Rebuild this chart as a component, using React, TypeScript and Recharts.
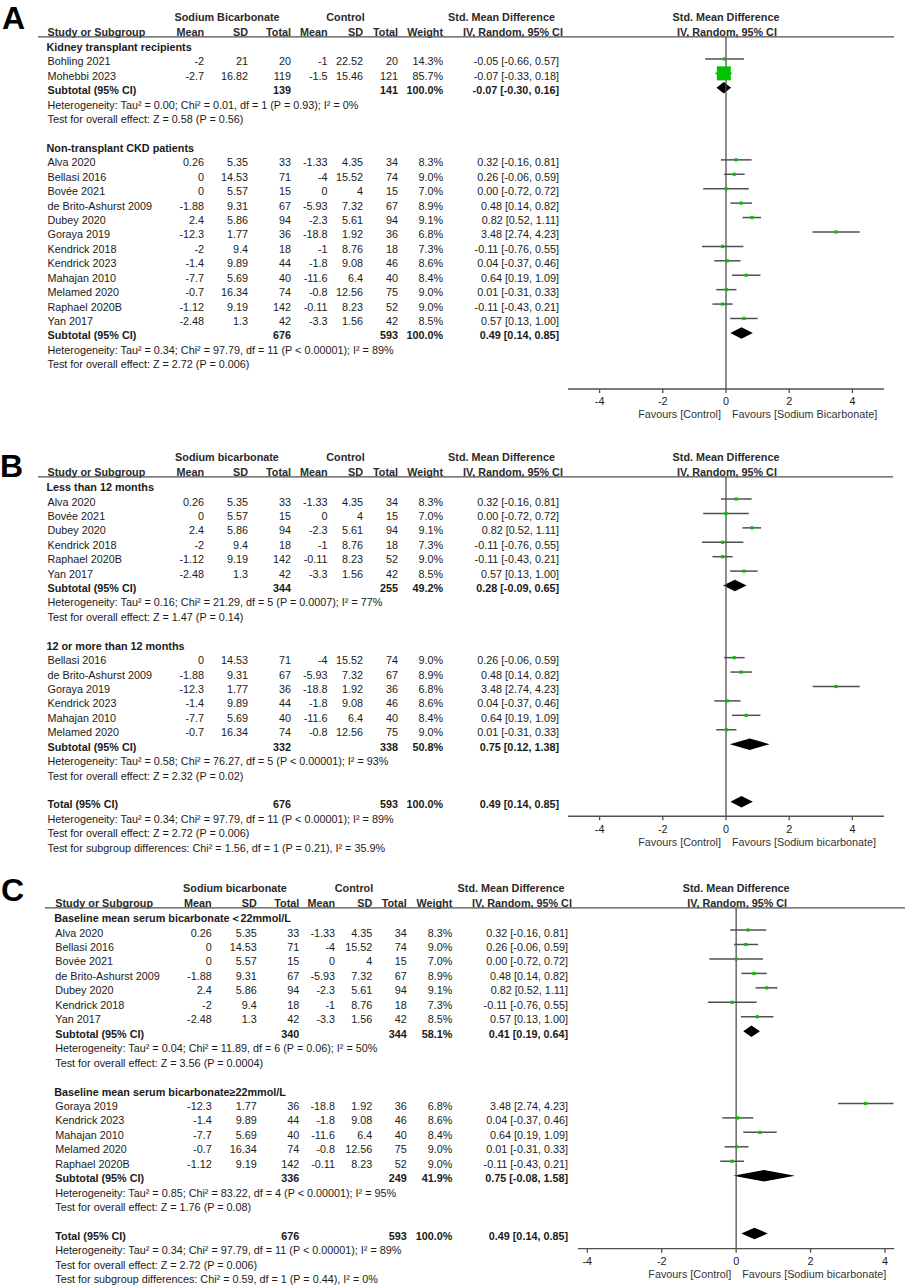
import React from "react";
import {
  ComposedChart,
  Scatter,
  XAxis,
  YAxis,
  ErrorBar,
  ReferenceLine,
  ReferenceArea,
} from "recharts";

const FONT = '"Liberation Sans", Arial, Helvetica, sans-serif';
const FS = 10.8;
const TXT = "#1a1a1a";
const HDR = "#2a2a2a";
const LINE = "#505050";
const GREEN = "#00c400";

// ---------- Non-transplant CKD studies ----------
const ckdStudies = [
  "Alva 2020",
  "Bellasi 2016",
  "Bovée 2021",
  "de Brito-Ashurst 2009",
  "Dubey 2020",
  "Goraya 2019",
  "Kendrick 2018",
  "Kendrick 2023",
  "Mahajan 2010",
  "Melamed 2020",
  "Raphael 2020B",
  "Yan 2017",
];
const ckdBicarbMean = [0.26, 0, 0, -1.88, 2.4, -12.3, -2, -1.4, -7.7, -0.7, -1.12, -2.48];
const ckdBicarbSD = [5.35, 14.53, 5.57, 9.31, 5.86, 1.77, 9.4, 9.89, 5.69, 16.34, 9.19, 1.3];
const ckdBicarbTotal = [33, 71, 15, 67, 94, 36, 18, 44, 40, 74, 142, 42];
const ckdControlMean = [-1.33, -4, 0, -5.93, -2.3, -18.8, -1, -1.8, -11.6, -0.8, -0.11, -3.3];
const ckdControlSD = [4.35, 15.52, 4, 7.32, 5.61, 1.92, 8.76, 9.08, 6.4, 12.56, 8.23, 1.56];
const ckdControlTotal = [34, 74, 15, 67, 94, 36, 18, 46, 40, 75, 52, 42];
const ckdWeight = [8.3, 9.0, 7.0, 8.9, 9.1, 6.8, 7.3, 8.6, 8.4, 9.0, 9.0, 8.5];
const ckdSMD = [0.32, 0.26, 0.0, 0.48, 0.82, 3.48, -0.11, 0.04, 0.64, 0.01, -0.11, 0.57];
const ckdLow = [-0.16, -0.06, -0.72, 0.14, 0.52, 2.74, -0.76, -0.37, 0.19, -0.31, -0.43, 0.13];
const ckdHigh = [0.81, 0.59, 0.72, 0.82, 1.11, 4.23, 0.55, 0.46, 1.09, 0.33, 0.21, 1.0];

// ---------- Kidney transplant studies ----------
const ktxStudies = ["Bohling 2021", "Mohebbi 2023"];
const ktxBicarbMean = [-2, -2.7];
const ktxBicarbSD = [21, 16.82];
const ktxBicarbTotal = [20, 119];
const ktxControlMean = [-1, -1.5];
const ktxControlSD = [22.52, 15.46];
const ktxControlTotal = [20, 121];
const ktxWeight = [14.3, 85.7];
const ktxSMD = [-0.05, -0.07];
const ktxLow = [-0.66, -0.33];
const ktxHigh = [0.57, 0.18];

// ---------- subgroup membership ----------
const durationShort = ["Alva 2020", "Bovée 2021", "Dubey 2020", "Kendrick 2018", "Raphael 2020B", "Yan 2017"];
const durationLong = ["Bellasi 2016", "de Brito-Ashurst 2009", "Goraya 2019", "Kendrick 2023", "Mahajan 2010", "Melamed 2020"];
const baselineLow = ["Alva 2020", "Bellasi 2016", "Bovée 2021", "de Brito-Ashurst 2009", "Dubey 2020", "Kendrick 2018", "Yan 2017"];
const baselineHigh = ["Goraya 2019", "Kendrick 2023", "Mahajan 2010", "Melamed 2020", "Raphael 2020B"];

// ---------- pooled estimates: [bicarbTotal, controlTotal, weight, smd, low, high] ----------
const pooledKtx = [139, 141, 100.0, -0.07, -0.3, 0.16];
const pooledCkd = [676, 593, 100.0, 0.49, 0.14, 0.85];
const pooledShort = [344, 255, 49.2, 0.28, -0.09, 0.65];
const pooledLong = [332, 338, 50.8, 0.75, 0.12, 1.38];
const pooledBaseLow = [340, 344, 58.1, 0.41, 0.19, 0.64];
const pooledBaseHigh = [336, 249, 41.9, 0.75, -0.08, 1.58];
const pooledTotal = [676, 593, 100.0, 0.49, 0.14, 0.85];

// ---------- statistics notes ----------
const hetKtx = "Heterogeneity: Tau² = 0.00; Chi² = 0.01, df = 1 (P = 0.93); I² = 0%";
const zKtx = "Test for overall effect: Z = 0.58 (P = 0.56)";
const hetAll = "Heterogeneity: Tau² = 0.34; Chi² = 97.79, df = 11 (P < 0.00001); I² = 89%";
const zAll = "Test for overall effect: Z = 2.72 (P = 0.006)";
const hetShort = "Heterogeneity: Tau² = 0.16; Chi² = 21.29, df = 5 (P = 0.0007); I² = 77%";
const zShort = "Test for overall effect: Z = 1.47 (P = 0.14)";
const hetLong = "Heterogeneity: Tau² = 0.58; Chi² = 76.27, df = 5 (P < 0.00001); I² = 93%";
const zLong = "Test for overall effect: Z = 2.32 (P = 0.02)";
const subDiffB = "Test for subgroup differences: Chi² = 1.56, df = 1 (P = 0.21), I² = 35.9%";
const hetBaseLow = "Heterogeneity: Tau² = 0.04; Chi² = 11.89, df = 6 (P = 0.06); I² = 50%";
const zBaseLow = "Test for overall effect: Z = 3.56 (P = 0.0004)";
const hetBaseHigh = "Heterogeneity: Tau² = 0.85; Chi² = 83.22, df = 4 (P < 0.00001); I² = 95%";
const zBaseHigh = "Test for overall effect: Z = 1.76 (P = 0.08)";
const subDiffC = "Test for subgroup differences: Chi² = 0.59, df = 1 (P = 0.44), I² = 0%";

const axisTicks = [-4, -2, 0, 2, 4];

// ---------- row builders ----------
function study(name: string) {
  let i = ckdStudies.indexOf(name);
  if (i >= 0)
    return {
      kind: "study", name,
      m1: ckdBicarbMean[i], sd1: ckdBicarbSD[i], n1: ckdBicarbTotal[i],
      m2: ckdControlMean[i], sd2: ckdControlSD[i], n2: ckdControlTotal[i],
      w: ckdWeight[i], smd: ckdSMD[i], lo: ckdLow[i], hi: ckdHigh[i],
    };
  i = ktxStudies.indexOf(name);
  return {
    kind: "study", name,
    m1: ktxBicarbMean[i], sd1: ktxBicarbSD[i], n1: ktxBicarbTotal[i],
    m2: ktxControlMean[i], sd2: ktxControlSD[i], n2: ktxControlTotal[i],
    w: ktxWeight[i], smd: ktxSMD[i], lo: ktxLow[i], hi: ktxHigh[i],
  };
}
function pooled(label: string, p: number[]) {
  return { kind: "pooled", name: label, n1: p[0], n2: p[1], w: p[2], smd: p[3], lo: p[4], hi: p[5] };
}
const group = (label: string) => ({ kind: "group", name: label });
const note = (text: string) => ({ kind: "note", name: text });
const blank = () => ({ kind: "blank" });

function buildRows(items: any[]) {
  const rows: any[] = [];
  items.forEach((it, idx) => {
    if (it.kind !== "blank") rows.push({ ...it, x: 0, y: idx });
  });
  return rows;
}

const rowsA = buildRows([
  group("Kidney transplant recipients"),
  ...ktxStudies.map(study),
  pooled("Subtotal (95% CI)", pooledKtx),
  note(hetKtx),
  note(zKtx),
  blank(),
  group("Non-transplant CKD patients"),
  ...ckdStudies.map(study),
  pooled("Subtotal (95% CI)", pooledCkd),
  note(hetAll),
  note(zAll),
]);

const rowsB = buildRows([
  group("Less than 12 months"),
  ...durationShort.map(study),
  pooled("Subtotal (95% CI)", pooledShort),
  note(hetShort),
  note(zShort),
  blank(),
  group("12 or more than 12 months"),
  ...durationLong.map(study),
  pooled("Subtotal (95% CI)", pooledLong),
  note(hetLong),
  note(zLong),
  blank(),
  pooled("Total (95% CI)", pooledTotal),
  note(hetAll),
  note(zAll),
  note(subDiffB),
]);

const rowsC = buildRows([
  group("Baseline mean serum bicarbonate＜22mmol/L"),
  ...baselineLow.map(study),
  pooled("Subtotal (95% CI)", pooledBaseLow),
  note(hetBaseLow),
  note(zBaseLow),
  blank(),
  group("Baseline mean serum bicarbonate≥22mmol/L"),
  ...baselineHigh.map(study),
  pooled("Subtotal (95% CI)", pooledBaseHigh),
  note(hetBaseHigh),
  note(zBaseHigh),
  blank(),
  pooled("Total (95% CI)", pooledTotal),
  note(hetAll),
  note(zAll),
  note(subDiffC),
]);

const colsAB = { name: 47.5, mean: 204, sd: 248, tot: 291, cmean: 327.5, csd: 363, ctot: 398, w: 443, ci: 559, sbC: 227, ctlC: 345.5, smdC: 501.5, ivC: 513 };
const colsC = { name: 55.3, mean: 211.7, sd: 256.7, tot: 299.3, cmean: 335, csd: 372.3, ctot: 406.7, w: 452.3, ci: 568, sbC: 235, ctlC: 354, smdC: 511, ivC: 522 };

const panels = [
  { letter: "A", top: 0, height: 440, row0: 44.5, rowH: 14.42, axisRow: 23.89, xMin: -5, xMax: 5, plotL: 568, plotR: 884, letterX: 2, letterY: 29, ul: [38, 894], cols: colsAB, sb: "Sodium Bicarbonate", fav: "Favours [Sodium Bicarbonate]", rows: rowsA },
  { letter: "B", top: 432, height: 440, row0: 484.6, rowH: 14.42, axisRow: 23, xMin: -5, xMax: 5, plotL: 568, plotR: 884, letterX: 0, letterY: 477, ul: [38, 893], cols: colsAB, sb: "Sodium bicarbonate", fav: "Favours [Sodium bicarbonate]", rows: rowsB },
  { letter: "C", top: 866, height: 421, row0: 915.6, rowH: 14.45, axisRow: 23.05, xMin: -4.25, xMax: 4.25, plotL: 578, plotR: 894.3, letterX: 1, letterY: 900.7, ul: [45, 905], cols: colsC, sb: "Sodium bicarbonate", fav: "Favours [Sodium bicarbonate]", rows: rowsC },
];

const fmtCI = (s: number, l: number, h: number) => `${s.toFixed(2)} [${l.toFixed(2)}, ${h.toFixed(2)}]`;

function T(props: any) {
  const { x, y, anchor = "end", bold = false, fill = TXT, size = FS, children } = props;
  return (
    <text x={x} y={y} textAnchor={anchor} fontFamily={FONT} fontSize={size} fontWeight={bold ? "bold" : "normal"} fill={fill}>
      {children}
    </text>
  );
}

function makeRowShape(panel: any) {
  const c = panel.cols;
  return (props: any) => {
    const { cx, cy, payload: r } = props;
    if (r.kind === "header") {
      const l1 = cy - 23.6;
      const l2 = cy - 8.5;
      const ul = cy - 7.7;
      return (
        <g>
          <T x={panel.letterX} y={cy + (panel.letterY - panel.row0)} anchor="start" bold size={32} fill="#000">{panel.letter}</T>
          <T x={c.sbC} y={l1} anchor="middle" bold fill={HDR}>{panel.sb}</T>
          <T x={c.ctlC} y={l1} anchor="middle" bold fill={HDR}>Control</T>
          <T x={c.smdC} y={l1} anchor="middle" bold fill={HDR}>Std. Mean Difference</T>
          <T x={cx} y={l1} anchor="middle" bold fill={HDR}>Std. Mean Difference</T>
          <T x={c.name} y={l2} anchor="start" bold fill={HDR}>Study or Subgroup</T>
          <T x={c.mean} y={l2} bold fill={HDR}>Mean</T>
          <T x={c.sd} y={l2} bold fill={HDR}>SD</T>
          <T x={c.tot} y={l2} bold fill={HDR}>Total</T>
          <T x={c.cmean} y={l2} bold fill={HDR}>Mean</T>
          <T x={c.csd} y={l2} bold fill={HDR}>SD</T>
          <T x={c.ctot} y={l2} bold fill={HDR}>Total</T>
          <T x={c.w} y={l2} bold fill={HDR}>Weight</T>
          <T x={c.ivC} y={l2} anchor="middle" bold fill={HDR}>IV, Random, 95% CI</T>
          <T x={cx + 1} y={l2} anchor="middle" bold fill={HDR}>IV, Random, 95% CI</T>
          <line x1={panel.ul[0]} x2={panel.ul[1]} y1={ul} y2={ul} stroke={LINE} strokeWidth={1.3} />
        </g>
      );
    }
    const b = cy + 6.5;
    if (r.kind === "group") return <T x={c.name - 1} y={b} anchor="start" bold>{r.name}</T>;
    if (r.kind === "note") return <T x={c.name} y={b} anchor="start">{r.name}</T>;
    if (r.kind === "pooled")
      return (
        <g>
          <T x={c.name} y={b} anchor="start" bold>{r.name}</T>
          <T x={c.tot} y={b} bold>{String(r.n1)}</T>
          <T x={c.ctot} y={b} bold>{String(r.n2)}</T>
          <T x={c.w} y={b} bold>{r.w.toFixed(1) + "%"}</T>
          <T x={c.ci} y={b} bold>{fmtCI(r.smd, r.lo, r.hi)}</T>
        </g>
      );
    return (
      <g>
        <T x={c.name} y={b} anchor="start">{r.name}</T>
        <T x={c.mean} y={b}>{String(r.m1)}</T>
        <T x={c.sd} y={b}>{String(r.sd1)}</T>
        <T x={c.tot} y={b}>{String(r.n1)}</T>
        <T x={c.cmean} y={b}>{String(r.m2)}</T>
        <T x={c.csd} y={b}>{String(r.sd2)}</T>
        <T x={c.ctot} y={b}>{String(r.n2)}</T>
        <T x={c.w} y={b}>{r.w.toFixed(1) + "%"}</T>
        <T x={c.ci} y={b}>{fmtCI(r.smd, r.lo, r.hi)}</T>
      </g>
    );
  };
}

const SquareShape = (props: any) => {
  const { cx, cy, payload } = props;
  const s = Math.max(3.2, (14 * payload.w) / 85.7);
  return <rect x={cx - s / 2} y={cy - s / 2} width={s} height={s} fill={GREEN} />;
};

const TickShape = (props: any) => {
  const { cx, cy, payload } = props;
  return (
    <g>
      <line x1={cx} x2={cx} y1={cy} y2={cy + 4} stroke={LINE} strokeWidth={1.3} />
      <T x={cx} y={cy + 16.5} anchor="middle">{payload.label}</T>
    </g>
  );
};

function makeFavShape(panel: any) {
  return (props: any) => {
    const { cx, cy } = props;
    return (
      <g>
        <T x={cx - 5} y={cy + 29.5} anchor="end" fill="#333">Favours [Control]</T>
        <T x={cx + 6} y={cy + 29.5} anchor="start" fill="#333">{panel.fav}</T>
      </g>
    );
  };
}

function makeDiamond(est: number, lo: number, hi: number) {
  return (p: any) => {
    const { x, y, width, height } = p;
    const ex = x + (width * (est - lo)) / (hi - lo);
    const my = y + height / 2;
    return <polygon points={`${x},${my} ${ex},${y} ${x + width},${my} ${ex},${y + height}`} fill="#000" />;
  };
}

function Panel({ panel }: { panel: any }) {
  const W = 906;
  const rel0 = panel.row0 - panel.top;
  const yMin = -rel0 / panel.rowH;
  const yMax = (panel.height - rel0) / panel.rowH;
  const textRows = [{ kind: "header", x: 0, y: 0 }, ...panel.rows];
  const studyPts = panel.rows
    .filter((r: any) => r.kind === "study")
    .map((r: any) => ({ x: r.smd, y: r.y, w: r.w, err: [r.smd - r.lo, r.hi - r.smd] }));
  const pooledRows = panel.rows.filter((r: any) => r.kind === "pooled");
  const tickPts = axisTicks.map((v) => ({ x: v, y: panel.axisRow, label: String(v) }));
  const favPts = [{ x: 0, y: panel.axisRow }];
  const zeroTop = -7.7 / panel.rowH;
  return (
    <div style={{ position: "absolute", left: 0, top: panel.top, width: W, height: panel.height }}>
      <ComposedChart
        width={W}
        height={panel.height}
        margin={{ top: 0, bottom: 0, left: panel.plotL, right: W - panel.plotR }}
      >
        <XAxis type="number" dataKey="x" domain={[panel.xMin, panel.xMax]} hide />
        <YAxis type="number" dataKey="y" domain={[yMin, yMax]} reversed hide />
        <ReferenceLine
          segment={[{ x: 0, y: zeroTop }, { x: 0, y: panel.axisRow }]}
          stroke={LINE}
          strokeWidth={1.3}
          ifOverflow="visible"
        />
        <ReferenceLine
          segment={[{ x: panel.xMin, y: panel.axisRow }, { x: panel.xMax, y: panel.axisRow }]}
          stroke={LINE}
          strokeWidth={1.3}
          ifOverflow="visible"
        />
        {pooledRows.map((r: any, i: number) => (
          <ReferenceArea
            key={"d" + i}
            x1={r.lo}
            x2={r.hi}
            y1={r.y - 0.4}
            y2={r.y + 0.4}
            ifOverflow="visible"
            shape={makeDiamond(r.smd, r.lo, r.hi)}
          />
        ))}
        <Scatter data={studyPts} shape={SquareShape} isAnimationActive={false}>
          <ErrorBar dataKey="err" direction="x" width={0} stroke={LINE} strokeWidth={1.5} />
        </Scatter>
        <Scatter data={tickPts} shape={TickShape} isAnimationActive={false} />
        <Scatter data={favPts} shape={makeFavShape(panel)} isAnimationActive={false} />
        <Scatter data={textRows} shape={makeRowShape(panel)} isAnimationActive={false} />
      </ComposedChart>
    </div>
  );
}

export default function App() {
  return (
    <div style={{ position: "relative", width: 906, height: 1287, background: "#fff", overflow: "hidden" }}>
      <style>{"html,body{margin:0;padding:0;background:#fff}"}</style>
      {panels.map((p) => (
        <Panel key={p.letter} panel={p} />
      ))}
    </div>
  );
}
